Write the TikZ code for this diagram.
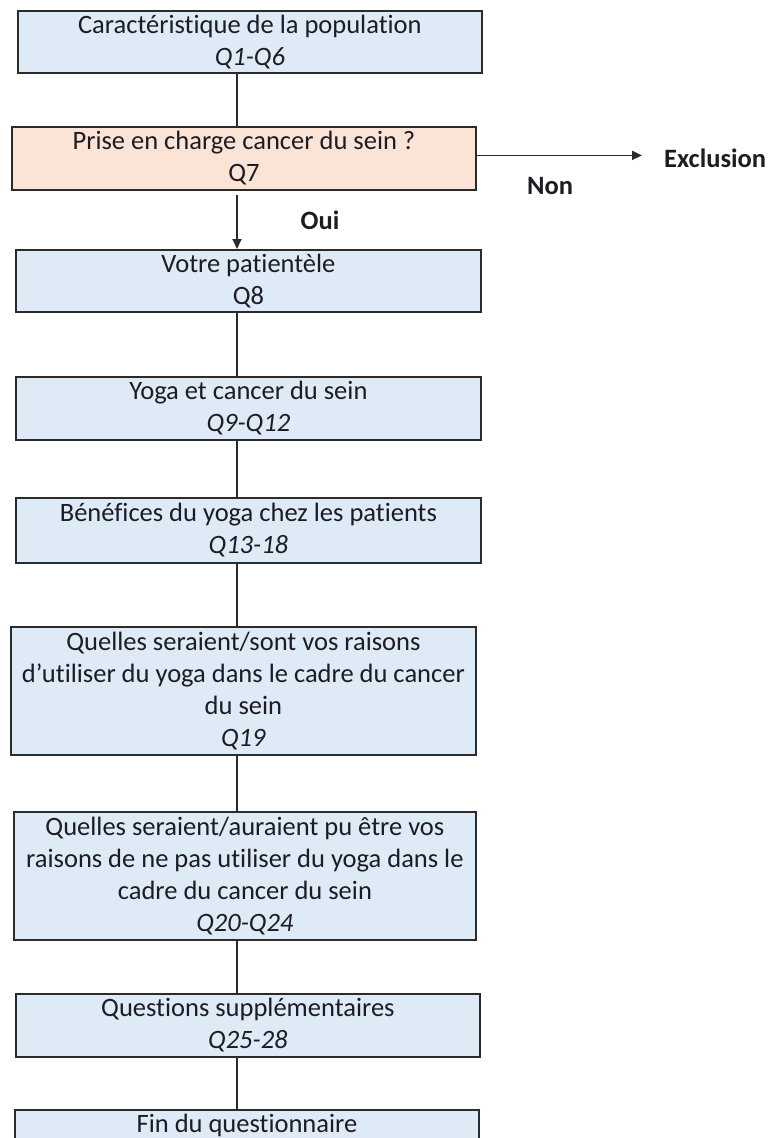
\documentclass[tikz,border=0pt]{standalone}
\usepackage{fontspec}
\setmainfont[Ligatures=NoCommon]{Carlito}
\usetikzlibrary{arrows.meta}
\definecolor{boxblue}{HTML}{DEEAF6}
\definecolor{boxorange}{HTML}{FBE4D5}
\definecolor{ink}{HTML}{1C1C24}
\definecolor{edge}{HTML}{2B2B2B}
\begin{document}
\begin{tikzpicture}[x=1pt,y=-1pt,
  stepbox/.style={draw=edge, line width=1.8pt, fill=boxblue, anchor=north west,
    inner sep=0pt, align=center, text=ink,
    font=\fontsize{26.5}{32}\selectfont},
  decision/.style={stepbox, fill=boxorange},
  link/.style={draw=edge, line width=1.8pt},
  tip/.style={-{Triangle[length=10pt,width=9pt]}},
  tag/.style={font=\fontsize{26.5}{30}\selectfont\bfseries, text=ink, inner sep=0pt}]
\useasboundingbox (0,0) rectangle (769,1138);
\coordinate (spine) at (237,0);
\coordinate (exclend) at (642,0);

\node[stepbox, minimum width=464pt, minimum height=62pt] (b1) at (17,10)
  {Caractéristique de la population\\\textit{Q1-Q6}};
\node[decision, minimum width=464pt, minimum height=63pt] (b2) at (11,126)
  {Prise en charge cancer du sein ?\\Q7};
\node[stepbox, minimum width=465pt, minimum height=62pt] (b3) at (15,249)
  {Votre patientèle\\Q8};
\node[stepbox, minimum width=465pt, minimum height=63pt] (b4) at (15,376)
  {Yoga et cancer du sein\\\textit{Q9-Q12}};
\node[stepbox, minimum width=465pt, minimum height=65pt] (b5) at (15,497)
  {Bénéfices du yoga chez les patients\\\textit{Q13-18}};
\node[stepbox, minimum width=465pt, minimum height=128pt] (b6) at (10,626)
  {Quelles seraient/sont vos raisons\\d’utiliser du yoga dans le cadre du cancer\\du sein\\\textit{Q19}};
\node[stepbox, minimum width=462pt, minimum height=128pt] (b7) at (13,811)
  {Quelles seraient/auraient pu être vos\\raisons de ne pas utiliser du yoga dans le\\cadre du cancer du sein\\\textit{Q20-Q24}};
\node[stepbox, minimum width=464pt, minimum height=63pt] (b8) at (15,993)
  {Questions supplémentaires\\\textit{Q25-28}};
\node[stepbox, minimum width=464pt, minimum height=62pt, anchor=north] (b9) at (247,1109)
  {Fin du questionnaire\\\phantom{Q}};

\node[tag, anchor=west] (excl) at (664,158) {Exclusion};
\node[tag] (non) at (550,186) {Non};
\node[tag] (oui) at (320,220) {Oui};

\draw[link] (b1.south -| spine) -- (b2.north -| spine);
\draw[link, tip] ([yshift=-4pt]b2.south -| spine) -- (b3.north -| spine);
\draw[link, tip] ([yshift=3pt]b2.east) -- ([yshift=3pt]b2.east -| exclend);
\draw[link] (b3.south -| spine) -- (b4.north -| spine);
\draw[link] (b4.south -| spine) -- (b5.north -| spine);
\draw[link] (b5.south -| spine) -- (b6.north -| spine);
\draw[link] (b6.south -| spine) -- (b7.north -| spine);
\draw[link] (b7.south -| spine) -- (b8.north -| spine);
\draw[link] (b8.south -| spine) -- (b9.north -| spine);
\end{tikzpicture}
\end{document}
